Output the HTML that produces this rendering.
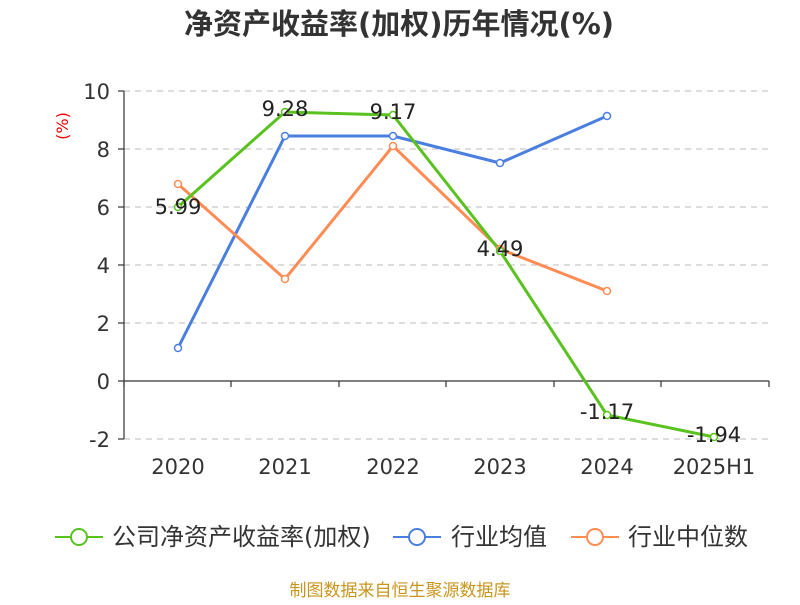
<!DOCTYPE html>
<html><head><meta charset="utf-8"><style>
body{margin:0;background:#fff;}
svg text{font-family:"DejaVu Sans","Noto Sans CJK SC",sans-serif;}
</style></head><body>
<svg width="800" height="600" xmlns="http://www.w3.org/2000/svg">
<rect width="800" height="600" fill="#fff"/>
<text x="399" y="34" text-anchor="middle" font-size="29" font-weight="bold" fill="#333">净资产收益率(加权)历年情况(%)</text>
<text x="68" y="126" font-size="16" fill="#e00" transform="rotate(-90 68 126)" text-anchor="middle">(%)</text>
<g stroke="#bbb" stroke-dasharray="6,5" stroke-width="1">
<line x1="124" y1="91" x2="769" y2="91"/><line x1="124" y1="149" x2="769" y2="149"/>
<line x1="124" y1="207" x2="769" y2="207"/><line x1="124" y1="265" x2="769" y2="265"/>
<line x1="124" y1="323" x2="769" y2="323"/><line x1="124" y1="439" x2="769" y2="439"/>
</g>
<g stroke="#333" stroke-width="1.2">
<line x1="124" y1="91" x2="124" y2="439"/>
<line x1="124" y1="381" x2="769" y2="381"/>
<line x1="118" y1="91" x2="124" y2="91"/><line x1="118" y1="149" x2="124" y2="149"/>
<line x1="118" y1="207" x2="124" y2="207"/><line x1="118" y1="265" x2="124" y2="265"/>
<line x1="118" y1="323" x2="124" y2="323"/><line x1="118" y1="381" x2="124" y2="381"/>
<line x1="118" y1="439" x2="124" y2="439"/>
<line x1="124" y1="381" x2="124" y2="387"/><line x1="231" y1="381" x2="231" y2="387"/>
<line x1="339" y1="381" x2="339" y2="387"/><line x1="446" y1="381" x2="446" y2="387"/>
<line x1="554" y1="381" x2="554" y2="387"/><line x1="661" y1="381" x2="661" y2="387"/>
<line x1="769" y1="381" x2="769" y2="387"/>
</g>
<g font-size="21" fill="#333" text-anchor="end">
<text x="110" y="99">10</text><text x="110" y="157">8</text><text x="110" y="215">6</text>
<text x="110" y="273">4</text><text x="110" y="331">2</text><text x="110" y="389">0</text><text x="110" y="447">-2</text>
</g>
<g font-size="21" fill="#333" text-anchor="middle">
<text x="178" y="474">2020</text><text x="285" y="474">2021</text><text x="393" y="474">2022</text>
<text x="500" y="474">2023</text><text x="607" y="474">2024</text><text x="714" y="474">2025H1</text>
</g>
<g fill="none" stroke-width="3">
<polyline stroke="#4a7fe0" points="178,348 285,136 393,136 500,163 607,116"/>
<polyline stroke="#ff8c55" points="178,184 285,279 393,146 500,249 607,291"/>
<polyline stroke="#5ac21f" points="178,207 285,112 393,115 500,251 607,415 714,437"/>
</g>
<g fill="#fff" stroke-width="1.5">
<g stroke="#4a7fe0"><circle cx="178" cy="348" r="3.5"/><circle cx="285" cy="136" r="3.5"/><circle cx="393" cy="136" r="3.5"/><circle cx="500" cy="163" r="3.5"/><circle cx="607" cy="116" r="3.5"/></g>
<g stroke="#ff8c55"><circle cx="178" cy="184" r="3.5"/><circle cx="285" cy="279" r="3.5"/><circle cx="393" cy="146" r="3.5"/><circle cx="500" cy="249" r="3.5"/><circle cx="607" cy="291" r="3.5"/></g>
<g stroke="#5ac21f"><circle cx="178" cy="207" r="3.5"/><circle cx="285" cy="112" r="3.5"/><circle cx="393" cy="115" r="3.5"/><circle cx="500" cy="251" r="3.5"/><circle cx="607" cy="415" r="3.5"/><circle cx="714" cy="437" r="3.5"/></g>
</g>
<g font-size="21" fill="#222" text-anchor="middle">
<text x="178" y="214">5.99</text><text x="285" y="116">9.28</text><text x="393" y="119">9.17</text>
<text x="500" y="256">4.49</text><text x="607" y="419">-1.17</text><text x="714" y="442">-1.94</text>
</g>
<g stroke-width="2" fill="#fff">
<line x1="55" y1="537" x2="103" y2="537" stroke="#5ac21f"/><circle cx="79" cy="537" r="8" stroke="#5ac21f"/>
<line x1="393" y1="537" x2="441" y2="537" stroke="#4a7fe0"/><circle cx="417" cy="537" r="8" stroke="#4a7fe0"/>
<line x1="571" y1="537" x2="619" y2="537" stroke="#ff8c55"/><circle cx="595" cy="537" r="8" stroke="#ff8c55"/>
</g>
<g font-size="24" fill="#333">
<text x="112" y="545">公司净资产收益率(加权)</text>
<text x="451" y="545">行业均值</text>
<text x="628" y="545">行业中位数</text>
</g>
<text x="400" y="596" text-anchor="middle" font-size="17" fill="#c8961e">制图数据来自恒生聚源数据库</text>
</svg>
</body></html>
